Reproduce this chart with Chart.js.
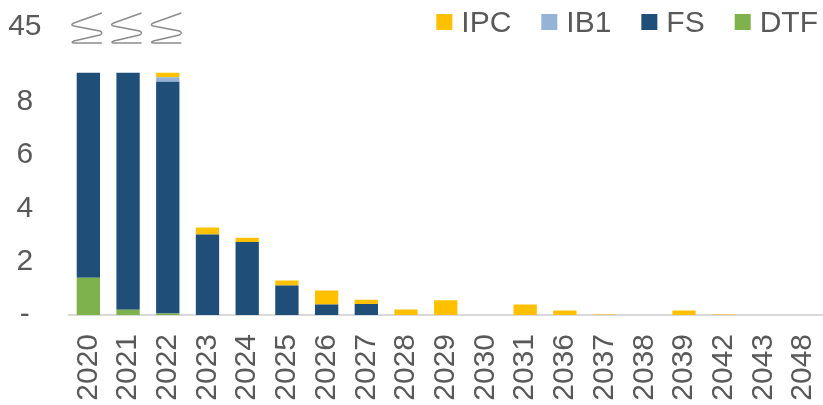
<!DOCTYPE html>
<html>
<head>
<meta charset="utf-8">
<script src="https://cdn.jsdelivr.net/npm/chart.js@4.4.1/dist/chart.umd.min.js"></script>
<style>
  html, body { margin: 0; padding: 0; background: #fff; }
</style>
</head>
<body>
<canvas id="chart" width="823" height="405"></canvas>
<script>
// categories and series (values above the break are capped at the break height)
const years = ['2020','2021','2022','2023','2024','2025','2026','2027','2028','2029','2030','2031','2036','2037','2038','2039','2042','2043','2048'];
const dtf = [1.40, 0.20, 0.06, null, null, null, null, null, null, null, null, null, null, null, null, null, null, null, null];
const fs  = [7.68, 8.88, 8.69, 3.02, 2.74, 1.11, 0.39, 0.41, null, null, null, null, null, null, null, null, null, null, null];
const ib1 = [null, null, 0.17, null, null, null, null, null, null, null, null, null, null, null, null, null, null, null, null];
const ipc = [null, null, 0.16, 0.26, 0.16, 0.18, 0.53, 0.16, 0.21, 0.55, null, 0.39, 0.17, 0.02, null, 0.17, 0.02, null, null];

// y axis: the top tick stands for the broken part of the axis
const yTicks = [0, 2, 4, 6, 8, 10.8];
const yTickLabels = ['-', '2', '4', '6', '8', '45'];
const brokenBars = ['2020', '2021', '2022'];

const textColor = '#595959';
const font = { family: 'Liberation Sans, Arial, sans-serif', size: 30 };

// legend drawn by hand so box / gap sizes match the original
const legendPlugin = {
    id: 'customLegend',
    afterDraw(chart) {
        const ctx = chart.ctx;
        const items = chart.data.datasets.slice().reverse();
        ctx.save();
        ctx.font = font.size + 'px ' + font.family;
        ctx.textBaseline = 'alphabetic';
        let total = 0;
        items.forEach((d, i) => {
            total += 16 + 9 + ctx.measureText(d.label).width + (i < items.length - 1 ? 30 : 0);
        });
        let x = 818 - total;
        items.forEach(d => {
            ctx.fillStyle = d.backgroundColor;
            ctx.fillRect(x, 14, 16, 16);
            x += 16 + 9;
            ctx.fillStyle = textColor;
            ctx.fillText(d.label, x, 32);
            x += ctx.measureText(d.label).width + 30;
        });
        ctx.restore();
    }
};

// squiggle marks over the capped bars
const breakPlugin = {
    id: 'axisBreak',
    afterDraw(chart) {
        const ctx = chart.ctx;
        const xs = chart.scales.x, ys = chart.scales.y;
        const cy = ys.getPixelForValue(yTicks[yTicks.length - 1]) + 1;
        ctx.save();
        ctx.strokeStyle = '#8c8c8c';
        ctx.lineWidth = 1.4;
        brokenBars.forEach(name => {
            const cx = xs.getPixelForValue(years.indexOf(name)) - 2;
            const l = cx - 15.5, t = cy - 15;
            ctx.beginPath();
            ctx.moveTo(l + 31, t);
            ctx.lineTo(l + 3, t + 10);
            ctx.quadraticCurveTo(l - 1, t + 12, l + 3, t + 13);
            ctx.lineTo(l + 29, t + 18);
            ctx.quadraticCurveTo(l + 33, t + 20, l + 29, t + 22);
            ctx.lineTo(l + 3, t + 28);
            ctx.quadraticCurveTo(l - 1, t + 30, l + 4, t + 30);
            ctx.lineTo(l + 31, t + 30);
            ctx.stroke();
        });
        ctx.restore();
    }
};

new Chart(document.getElementById('chart'), {
    type: 'bar',
    data: {
        labels: years,
        datasets: [
            { label: 'DTF', data: dtf, backgroundColor: '#7EB24D' },
            { label: 'FS', data: fs, backgroundColor: '#1F4E79' },
            { label: 'IB1', data: ib1, backgroundColor: '#95B3D7' },
            { label: 'IPC', data: ipc, backgroundColor: '#FFC000' }
        ]
    },
    options: {
        responsive: false,
        animation: false,
        layout: { padding: { top: 27, left: 0, right: 0, bottom: 0 } },
        datasets: { bar: { categoryPercentage: 1, barPercentage: 0.587, borderWidth: 0 } },
        plugins: { legend: { display: false }, tooltip: { enabled: false } },
        scales: {
            x: {
                stacked: true,
                grid: { display: false },
                border: { display: true, color: '#d9d9d9', width: 2 },
                ticks: { color: textColor, font: font, minRotation: 90, maxRotation: 90, autoSkip: false, padding: 11 },
                afterFit: s => { s.height = 90; s.paddingLeft = 0; s.paddingRight = 0; }
            },
            y: {
                stacked: true,
                min: 0,
                max: yTicks[yTicks.length - 1],
                grid: { display: false, drawTicks: false },
                border: { display: false },
                afterBuildTicks: s => { s.ticks = yTicks.map(v => ({ value: v })); },
                ticks: {
                    color: textColor, font: font, crossAlign: 'center', padding: 27,
                    callback: v => yTickLabels[yTicks.indexOf(v)]
                },
                afterFit: s => { s.width = 68.5; s.paddingTop = 0; s.paddingBottom = 0; }
            }
        }
    },
    plugins: [legendPlugin, breakPlugin]
});
</script>
</body>
</html>
